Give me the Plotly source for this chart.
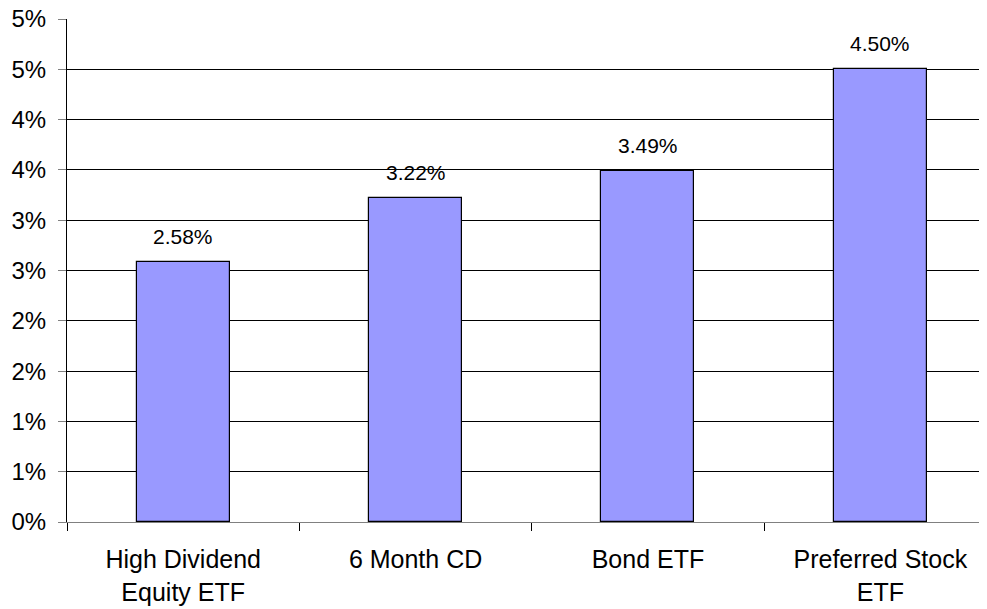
import plotly.graph_objects as go

categories = ["High Dividend<br>Equity ETF", "6 Month CD", "Bond ETF", "Preferred Stock<br>ETF"]
yields = [2.58, 3.22, 3.49, 4.50]
value_labels = ["2.58%", "3.22%", "3.49%", "4.50%"]
y_tick_values = [0, 0.5, 1, 1.5, 2, 2.5, 3, 3.5, 4, 4.5, 5]
y_tick_labels = ["0%", "1%", "1%", "2%", "2%", "3%", "3%", "4%", "4%", "5%", "5%"]

fig = go.Figure()
fig.add_trace(go.Bar(
    x=categories, y=yields, width=0.4,
    marker=dict(color="#9999FF", line=dict(color="black", width=1.2)),
    hoverinfo="skip",
))

for c, v, t in zip(categories, yields, value_labels):
    fig.add_annotation(x=c, y=v, text=t, showarrow=False, yanchor="bottom",
                       yshift=12, font=dict(family="Liberation Sans, Arial", size=21, color="black"))

# page body has an 8px margin; size the figure so it ends at the window edge
fig.update_layout(
    width=979, height=601,
    margin=dict(l=59, r=0, t=11, b=87, autoexpand=False),
    paper_bgcolor="white", plot_bgcolor="white",
    showlegend=False,
    font=dict(family="Liberation Sans, Arial", color="black"),
    bargap=0,
)
fig.update_xaxes(
    type="category", range=[-0.5, 3.459], automargin=False,
    showline=True, linecolor="#808080", linewidth=1,
    ticks="outside", tickson="boundaries", ticklen=8, tickcolor="black",
    showgrid=False, tickfont=dict(size=25, color="black"),
    ticklabelstandoff=15, ticklabeloverflow="allow",
)
fig.update_yaxes(
    range=[0, 5], tickvals=y_tick_values, ticktext=y_tick_labels, automargin=False,
    showline=True, linecolor="black", linewidth=1,
    ticks="outside", ticklen=8, tickcolor="#808080",
    showgrid=True, gridcolor="black", gridwidth=1, zeroline=False,
    tickfont=dict(size=24, color="black"),
    ticklabelstandoff=7, ticklabeloverflow="allow",
)

fig.write_html("out.html")
